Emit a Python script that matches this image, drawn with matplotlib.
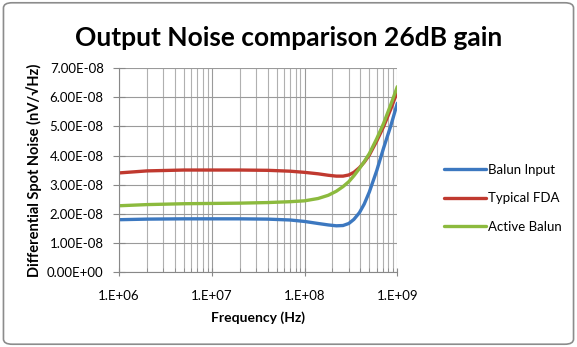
import math
import matplotlib
matplotlib.use("Agg")
import matplotlib.pyplot as plt
from matplotlib.patches import FancyBboxPatch
from matplotlib.ticker import FixedLocator, LogLocator, NullFormatter, FuncFormatter

plt.rcParams['font.family'] = ['Lato', 'DejaVu Sans']

# Frequency points (Hz)
freq = [1e6, 2e6, 5e6, 1e7, 2e7, 4e7, 7e7, 1e8, 1.4e8, 1.8e8, 2.2e8, 2.6e8, 3.0e8,
        3.4e8, 3.9e8, 4.4e8, 5.0e8, 6.0e8, 7.1e8, 8.5e8, 1e9]

# Differential spot noise (V/sqrt(Hz))
balun_input = [1.79e-8, 1.81e-8, 1.82e-8, 1.82e-8, 1.82e-8, 1.81e-8, 1.78e-8, 1.73e-8,
               1.66e-8, 1.61e-8, 1.58e-8, 1.59e-8, 1.66e-8, 1.80e-8, 2.03e-8, 2.33e-8,
               2.75e-8, 3.48e-8, 4.25e-8, 5.02e-8, 5.80e-8]
typical_fda = [3.40e-8, 3.47e-8, 3.50e-8, 3.50e-8, 3.50e-8, 3.49e-8, 3.46e-8, 3.42e-8,
               3.37e-8, 3.32e-8, 3.29e-8, 3.29e-8, 3.33e-8, 3.42e-8, 3.58e-8, 3.77e-8,
               4.02e-8, 4.50e-8, 4.99e-8, 5.60e-8, 6.20e-8]
active_balun = [2.27e-8, 2.31e-8, 2.34e-8, 2.35e-8, 2.36e-8, 2.38e-8, 2.41e-8, 2.44e-8,
                2.52e-8, 2.63e-8, 2.77e-8, 2.93e-8, 3.10e-8, 3.30e-8, 3.55e-8, 3.79e-8,
                4.07e-8, 4.58e-8, 5.10e-8, 5.75e-8, 6.37e-8]

series_names = ["Balun Input", "Typical FDA", "Active Balun"]
series_colors = ["#3c78c0", "#c0392f", "#8cba3e"]

y_ticks = [0, 1e-8, 2e-8, 3e-8, 4e-8, 5e-8, 6e-8, 7e-8]
x_ticks = [1e6, 1e7, 1e8, 1e9]

fig = plt.figure(figsize=(5.77, 3.47), dpi=100)
fig.patch.set_facecolor("white")

# Rounded chart border
border = FancyBboxPatch((0.006, 0.008), 0.988, 0.984,
                        boxstyle="round,pad=0,rounding_size=0.015",
                        transform=fig.transFigure, facecolor="none",
                        edgecolor="#8c8c8c", linewidth=1.2)
fig.patches.append(border)

ax = fig.add_axes([0.2062, 0.217, 0.4824, 0.586])

for vals, name, col in zip([balun_input, typical_fda, active_balun], series_names, series_colors):
    ax.plot(freq, vals, color=col, lw=2.4, label=name, solid_capstyle="round",
            solid_joinstyle="round")

ax.set_xscale("log")
ax.set_xlim(1e6, 1e9)
ax.set_ylim(0, 7e-8)
ax.xaxis.set_major_locator(FixedLocator(x_ticks))
ax.xaxis.set_minor_locator(LogLocator(base=10, subs=range(2, 10)))
ax.xaxis.set_minor_formatter(NullFormatter())
ax.xaxis.set_major_formatter(FuncFormatter(lambda v, p: "1.E+%02d" % round(math.log10(v))))
ax.yaxis.set_major_locator(FixedLocator(y_ticks))
ax.yaxis.set_major_formatter(FuncFormatter(
    lambda v, p: "0.00E+00" if v == 0 else ("%.2E" % v)))

ax.grid(True, which="major", color="#9a9a9a", lw=0.8)
ax.grid(True, which="minor", axis="x", color="#b0b0b0", lw=0.8)
ax.set_axisbelow(True)

for side in ["top", "right"]:
    ax.spines[side].set_visible(False)
ax.spines["left"].set_color("#888888")
ax.spines["bottom"].set_color("#888888")
ax.tick_params(axis="both", which="major", direction="out", length=4, color="#888888",
               labelsize=9.5, pad=3)
ax.tick_params(axis="x", which="minor", direction="in", length=3, color="#888888")
ax.tick_params(axis="x", which="major", direction="inout", length=6, pad=10)
ax.tick_params(axis="y", which="major", direction="inout", length=8, pad=7)

ax.set_xlabel("Frequency (Hz)", fontsize=10, fontweight="bold", labelpad=7)
ax.set_ylabel("Differential Spot Noise (nV/\u221aHz)", fontsize=10.5, fontweight="bold",
              labelpad=4)

fig.text(0.5, 0.89, "Output Noise comparison 26dB gain", ha="center", va="center",
         fontsize=19, fontweight="bold")

leg = ax.legend(loc="center left", bbox_to_anchor=(1.125, 0.36), frameon=False,
                fontsize=9.5, handlelength=3.2, handletextpad=0.15, labelspacing=1.25)

fig.savefig("out.png", dpi=100)
